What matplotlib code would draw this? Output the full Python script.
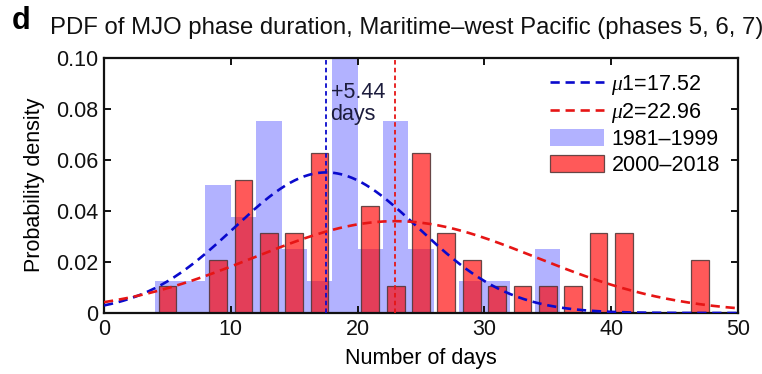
import numpy as np
import matplotlib
matplotlib.use("Agg")
import matplotlib.pyplot as plt
from matplotlib.patches import Patch
from matplotlib.lines import Line2D

plt.rcParams['font.family'] = ['Liberation Sans', 'DejaVu Sans']
plt.rcParams['mathtext.fontset'] = 'custom'
plt.rcParams['mathtext.it'] = 'Liberation Serif:italic'

# Histogram bin centres (days) and probability densities
bin_centers = [5, 7, 9, 11, 13, 15, 17, 19, 21, 23, 25, 27, 29, 31, 33, 35, 37, 39, 41, 43, 45, 47]
dens_1981_1999 = [0.0125, 0.0125, 0.05, 0.0375, 0.075, 0.025, 0.0125, 0.1, 0.025, 0.075, 0.025,
                  0.0, 0.0125, 0.0125, 0.0, 0.025, 0.0, 0.0, 0.0, 0.0, 0.0, 0.0]
dens_2000_2018 = [0.0104, 0.0, 0.0208, 0.0521, 0.03125, 0.03125, 0.0625, 0.0, 0.0417, 0.0104, 0.0625,
                  0.03125, 0.0208, 0.0104, 0.0104, 0.0104, 0.0104, 0.03125, 0.03125, 0.0, 0.0, 0.0208]

# Fitted normal distributions
mu1, sigma1 = 17.52, 7.25
mu2, sigma2 = 22.96, 11.1
shift_text = "+5.44\ndays"

xticks = [0, 10, 20, 30, 40, 50]
yticks = [0, 0.02, 0.04, 0.06, 0.08, 0.10]
yticklabels = ["0", "0.02", "0.04", "0.06", "0.08", "0.10"]

fig = plt.figure(figsize=(7.62, 3.74), dpi=100)
ax = fig.add_axes([104/762, 1-313/374, (738-104)/762, (313-57.5)/374])

blue_fill = (0.0, 0.0, 1.0, 0.30)
red_fill = (1.0, 0.0, 0.0, 0.65)
ax.bar(bin_centers, dens_1981_1999, width=2.0, color=blue_fill, edgecolor='none', zorder=1)
red_bars = [(c, d) for c, d in zip(bin_centers, dens_2000_2018) if d > 0]
ax.bar([c for c, _ in red_bars], [d for _, d in red_bars], width=1.4, color=red_fill,
       edgecolor=(0.3, 0.2, 0.2, 0.85), linewidth=0.9, zorder=2)

xs = np.linspace(0, 50, 400)
pdf1 = np.exp(-(xs - mu1) ** 2 / (2 * sigma1 ** 2)) / (sigma1 * np.sqrt(2 * np.pi))
pdf2 = np.exp(-(xs - mu2) ** 2 / (2 * sigma2 ** 2)) / (sigma2 * np.sqrt(2 * np.pi))
blue_c = '#0a0acc'
red_c = '#e61515'
ax.plot(xs, pdf1, color=blue_c, lw=1.9, ls=(0, (3.5, 2.2)), zorder=4)
ax.plot(xs, pdf2, color=red_c, lw=1.9, ls=(0, (3.5, 2.2)), zorder=4)
ax.axvline(mu1, color=blue_c, lw=1.3, ls=(0, (2.5, 1.8)), zorder=3)
ax.axvline(mu2, color=red_c, lw=1.3, ls=(0, (2.5, 1.8)), zorder=3)

ax.text(mu1 + 0.35, 0.0905, shift_text, fontsize=15.5, color='#1c1c3c', va='top', ha='left',
        linespacing=1.05, zorder=5)

ax.set_xlim(0, 50)
ax.set_ylim(0, 0.10)
ax.set_xticks(xticks)
ax.set_yticks(yticks)
ax.set_yticklabels(yticklabels)
ax.tick_params(direction='in', length=5, width=1.4, top=True, right=True, labelsize=15.5,
               pad=4, colors='#111111')
for s in ax.spines.values():
    s.set_linewidth(1.6)
    s.set_color('#111111')
ax.set_xlabel("Number of days", fontsize=15.5, labelpad=6)
ax.set_ylabel("Probability density", fontsize=15.5, labelpad=8)

handles = [
    Line2D([], [], color=blue_c, lw=1.9, ls=(0, (3.5, 2.2))),
    Line2D([], [], color=red_c, lw=1.9, ls=(0, (3.5, 2.2))),
    Patch(facecolor=blue_fill, edgecolor='none'),
    Patch(facecolor=red_fill, edgecolor=(0.3, 0.2, 0.2, 0.85), linewidth=0.9),
]
labels = [r"$\mathit{\mu}$1=17.52", r"$\mathit{\mu}$2=22.96", "1981–1999", "2000–2018"]
ax.legend(handles, labels, loc='upper right', bbox_to_anchor=(0.995, 1.0), frameon=False,
          fontsize=15.5, handlelength=2.5, handleheight=0.85, labelspacing=0.2,
          handletextpad=0.35, borderaxespad=0.3)

fig.text(12/762, 1-21/374, "d", fontsize=22, fontweight='bold', va='center', ha='left')
fig.text(50/762, 1-28/374, "PDF of MJO phase duration, Maritime–west Pacific (phases 5, 6, 7)",
         fontsize=17.2, va='center', ha='left', color='#111111')

fig.savefig("out.png", dpi=100)
